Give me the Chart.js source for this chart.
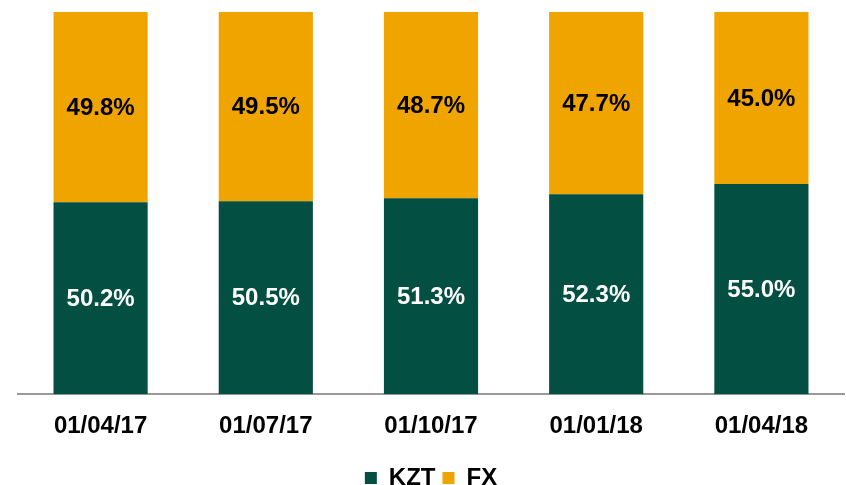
<!DOCTYPE html>
<html>
<head>
<meta charset="utf-8">
<script src="https://cdn.jsdelivr.net/npm/chart.js@4"></script>
<style>
  html, body { margin: 0; padding: 0; background: #ffffff; }
  #wrap { width: 846px; height: 485px; }
</style>
</head>
<body>
<div id="wrap"><canvas id="shareChart"></canvas></div>
<script>
const categories = ['01/04/17', '01/07/17', '01/10/17', '01/01/18', '01/04/18'];
const kztValues = [50.2, 50.5, 51.3, 52.3, 55.0];
const fxValues = [49.8, 49.5, 48.7, 47.7, 45.0];

const GREEN = '#034f41';
const ORANGE = '#f0a400';
const FONT = '"Liberation Sans", Arial, sans-serif';

// 막대 안쪽 가운데에 퍼센트 라벨 표시
const barLabels = {
    id: 'barLabels',
    afterDatasetsDraw(chart) {
        const ctx = chart.ctx;
        ctx.save();
        ctx.font = 'bold 24px ' + FONT;
        ctx.textAlign = 'center';
        ctx.textBaseline = 'middle';
        chart.data.datasets.forEach((ds, i) => {
            const meta = chart.getDatasetMeta(i);
            ctx.fillStyle = i === 0 ? '#ffffff' : '#000000';
            meta.data.forEach((bar, j) => {
                const y = (bar.y + bar.base) / 2 + 1;
                ctx.fillText(ds.data[j].toFixed(1) + '%', bar.x, y);
            });
        });
        ctx.restore();
    }
};

const ctx = document.getElementById('shareChart').getContext('2d');
new Chart(ctx, {
    type: 'bar',
    data: {
        labels: categories,
        datasets: [
            { label: 'KZT', data: kztValues, backgroundColor: GREEN },
            { label: 'FX', data: fxValues, backgroundColor: ORANGE }
        ]
    },
    options: {
        responsive: true,
        maintainAspectRatio: false,
        animation: false,
        layout: { padding: { top: 12, left: 18, right: 2, bottom: -15 } },
        datasets: { bar: { barPercentage: 0.57, categoryPercentage: 1.0 } },
        scales: {
            x: {
                stacked: true,
                grid: { display: false, drawTicks: false },
                border: { display: true, color: '#999999', width: 2 },
                ticks: {
                    padding: 18,
                    color: '#000000',
                    font: { family: FONT, size: 24, weight: 'bold' }
                }
            },
            y: {
                stacked: true,
                min: 0,
                max: 100,
                display: false
            }
        },
        plugins: {
            legend: {
                display: true,
                position: 'bottom',
                labels: {
                    boxWidth: 12,
                    boxHeight: 12,
                    padding: 7,
                    color: '#000000',
                    font: { family: FONT, size: 24, weight: 'bold' }
                }
            },
            tooltip: { enabled: false }
        }
    },
    plugins: [barLabels]
});
</script>
</body>
</html>
